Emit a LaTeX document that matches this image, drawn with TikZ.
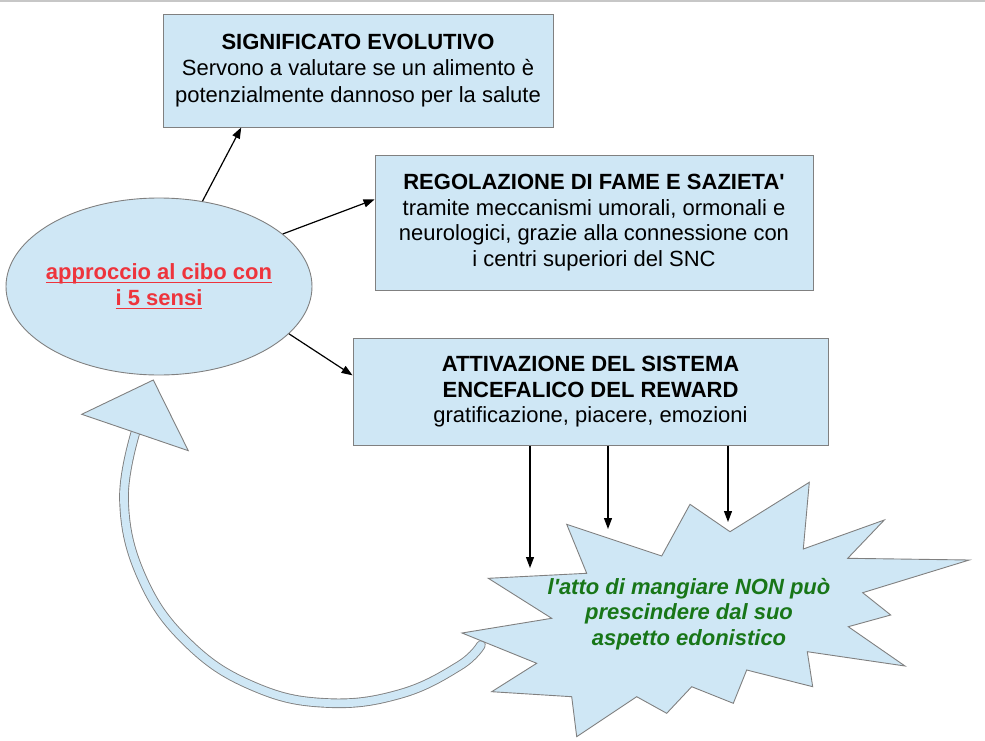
\documentclass[tikz,border=0pt]{standalone}
\usepackage{fontspec}
\setmainfont{Liberation Sans}
\usetikzlibrary{arrows.meta,shapes.geometric}
\definecolor{boxblue}{RGB}{207,231,245}
\definecolor{boxline}{RGB}{128,128,128}
\definecolor{senseRed}{RGB}{238,52,60}
\definecolor{hedonGreen}{RGB}{24,118,24}
\newcommand{\redul}[1]{\setbox0\hbox{#1}\rlap{\rule[-3.5pt]{\wd0}{1.6pt}}\box0}

\begin{document}
\begin{tikzpicture}[x=1pt,y=1pt,
    every node/.style={font=\fontsize{22}{25.5}\selectfont, inner sep=0pt},
    infobox/.style={rectangle, draw=boxline, fill=boxblue, line width=0.9pt, align=center},
    link/.style={black, line width=1.2pt, -{Triangle[length=11pt,width=8pt]}}]
    \useasboundingbox (0,0) rectangle (985,-741);
    \draw [black!22, line width=1.5pt] (0,-1) -- (985,-1);
    \draw [boxline, line width=9.6pt, line cap=round] plot [smooth, tension=0.7] coordinates {(481,-645) (459,-666) (400,-694) (327,-703) (255,-687) (190,-645) (143,-580) (124,-500) (138,-424)};
    \draw [boxblue, line width=7.8pt, line cap=round] plot [smooth, tension=0.7] coordinates {(481,-645) (459,-666) (400,-694) (327,-703) (255,-687) (190,-645) (143,-580) (124,-500) (138,-424)};
    \filldraw [fill=boxblue, draw=boxline, line width=0.9pt] (153.3,-380) -- (81.7,-414.3) -- (188.3,-450.7) -- cycle;
    \filldraw [fill=boxblue, draw=boxline, line width=0.9pt] (566.7,-524.3) -- (661.7,-556) -- (690,-504.3) -- (730,-531.7) -- (809.3,-482.3) -- (803.3,-549) -- (884.3,-520) -- (847.7,-558.3) -- (969.3,-560) -- (862.7,-592.7) -- (890.7,-615) -- (848.3,-626.7) -- (905,-666) -- (807.3,-651.7) -- (812.7,-686.7) -- (746.7,-670) -- (733.3,-703.3) -- (691.7,-686.7) -- (666.7,-713.3) -- (636.7,-696.7) -- (576.7,-736.7) -- (571.7,-696.7) -- (491.7,-691.7) -- (536.7,-663.3) -- (462,-633) -- (551.7,-618.3) -- (488.3,-578.3) -- (586.7,-573.3) -- cycle;
    \node [text=hedonGreen, font=\fontsize{22}{25.5}\selectfont\bfseries\itshape, align=center] (hedon) at (689,-614) {l\textquotesingle atto di mangiare NON può\\prescindere dal suo\\aspetto edonistico};
    \node [infobox, minimum width=390pt, minimum height=113pt, font=\fontsize{22}{26.5}\selectfont] (evol) at (358,-70.5) {\textbf{SIGNIFICATO EVOLUTIVO}\\Servono a valutare se un alimento è\\potenzialmente dannoso per la salute};
    \node [infobox, minimum width=438pt, minimum height=135pt] (hunger) at (594,-222.5) {\textbf{REGOLAZIONE DI FAME E SAZIETA\textquotesingle}\\tramite meccanismi umorali, ormonali e\\neurologici, grazie alla connessione con\\i centri superiori del SNC};
    \node [infobox, minimum width=475pt, minimum height=107pt] (reward) at (590.5,-392) {\textbf{ATTIVAZIONE DEL SISTEMA}\\\textbf{ENCEFALICO DEL REWARD}\\gratificazione, piacere, emozioni};
    \node [ellipse, draw=boxline, fill=boxblue, line width=0.9pt, inner xsep=-12pt, minimum width=306pt, minimum height=177pt, text=senseRed, font=\fontsize{22}{26}\selectfont\bfseries, align=center] (senses) at (159,-286.5) {\redul{approccio al cibo con}\\\redul{i 5 sensi}};
    \coordinate (hit1) at (530,-568);
    \coordinate (hit2) at (608,-529);
    \coordinate (hit3) at (728,-522);
    \draw [link] (senses.63) -- (evol.206);
    \draw [link] (senses.23) -- (hunger.174);
    \draw [link] (senses.-20) -- (reward.176);
    \draw [link] (reward.south -| hit1) -- (hit1);
    \draw [link] (reward.south -| hit2) -- (hit2);
    \draw [link] (reward.south -| hit3) -- (hit3);
\end{tikzpicture}
\end{document}
